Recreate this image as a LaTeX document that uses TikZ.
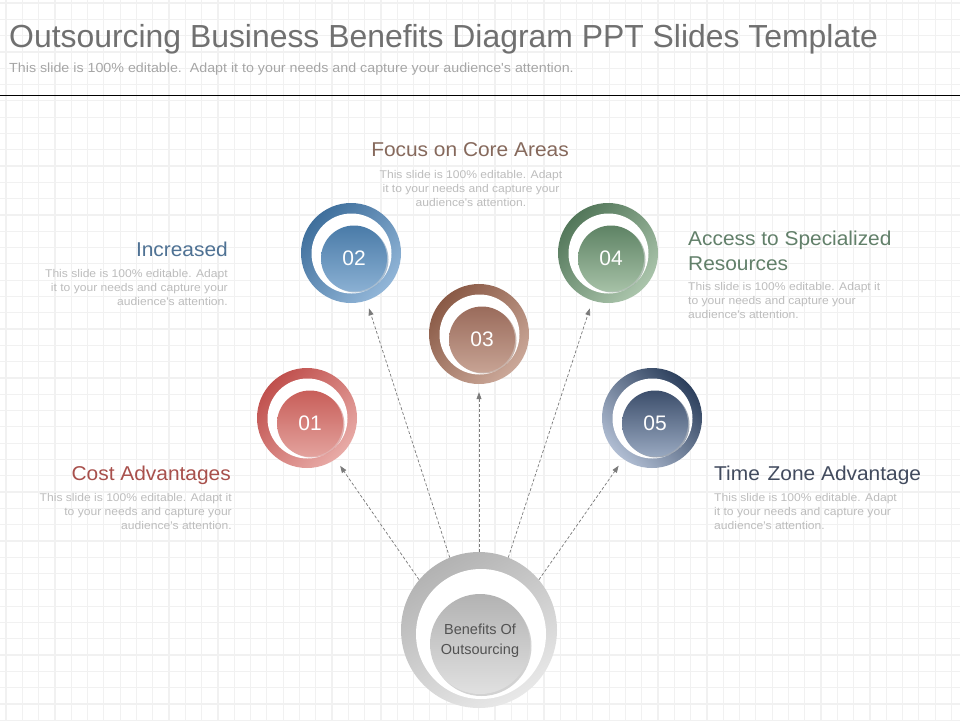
\documentclass[tikz,border=0pt]{standalone}
\usepackage{fontspec}
\setmainfont{Liberation Sans}
\newfontfamily\bodyfont[FakeStretch=1.08]{Liberation Sans}
\newfontfamily\headfont[FakeStretch=1.045]{Liberation Sans}
\usetikzlibrary{calc,arrows.meta}
\definecolor{titlegray}{HTML}{707070}
\definecolor{subgray}{HTML}{A6A6A6}
\definecolor{bodygray}{HTML}{BDBDBD}
\definecolor{gridc}{HTML}{F1F1F1}
\definecolor{arrowc}{HTML}{7A7A7A}
\definecolor{hbrown}{HTML}{86695C}
\definecolor{hblue}{HTML}{4F7294}
\definecolor{hgreen}{HTML}{62806A}
\definecolor{hred}{HTML}{A8504C}
\definecolor{hnavy}{HTML}{424B5E}
\definecolor{rOa}{HTML}{C0504D}\definecolor{rOb}{HTML}{E8ABA7}\definecolor{rIa}{HTML}{C85E59}\definecolor{rIb}{HTML}{E3A29D}
\definecolor{bOa}{HTML}{3F6F9C}\definecolor{bOb}{HTML}{92B6D8}\definecolor{bIa}{HTML}{4A7BA8}\definecolor{bIb}{HTML}{8AB0D3}
\definecolor{wOa}{HTML}{8A5A46}\definecolor{wOb}{HTML}{CBA899}\definecolor{wIa}{HTML}{9A6B5B}\definecolor{wIb}{HTML}{C7A394}
\definecolor{gOa}{HTML}{53775A}\definecolor{gOb}{HTML}{ABC5AC}\definecolor{gIa}{HTML}{5E8364}\definecolor{gIb}{HTML}{A6C1A7}
\definecolor{nOa}{HTML}{2C3F5C}\definecolor{nOb}{HTML}{B0BDD2}\definecolor{nIa}{HTML}{3C4E6B}\definecolor{nIb}{HTML}{98A8C0}
\begin{document}
\begin{tikzpicture}[x=1pt,y=-1pt,
  gridline/.style={draw=gridc,line width=1.2pt},
  arrowline/.style={draw=arrowc,line width=0.7pt,dash pattern=on 3pt off 2pt,
    -{Triangle[length=7pt,width=5pt]},shorten >=8pt},
  ring/.style={circle,inner sep=0pt,minimum size=100pt},
  core/.style={circle,inner sep=0pt,minimum size=66pt,text=white,font=\fontsize{21}{24}\selectfont},
  head/.style={inner sep=0pt,font=\headfont\fontsize{20}{25}\selectfont},
  body/.style={inner sep=0pt,text=bodygray,font=\bodyfont\fontsize{11.2}{14.3}\selectfont},
]
\useasboundingbox (0,0) rectangle (960,720);
\fill[white] (0,0) rectangle (960,720);
% grid
\foreach \i in {0,...,58} {\draw[gridline] ({6+16.3*\i},0) -- ({6+16.3*\i},720);}
\foreach \i in {0,...,44} {\draw[gridline] (0,{3+16.3*\i}) -- (960,{3+16.3*\i});}
% header
\node[anchor=base west,inner sep=0pt,text=titlegray,font=\fontsize{31.9}{36}\selectfont] (title) at (9,47) {Outsourcing Business Benefits Diagram PPT Slides Template};
\node[anchor=base west,inner sep=0pt,text=subgray,font=\bodyfont\fontsize{13.2}{15}\selectfont] (sub) at (9,72) {This slide is 100\% editable.\ \ Adapt it to your needs and capture your audience's attention.};
\draw[black,line width=1pt] (0,95) -- (960,95);

% center circle
\node[circle,inner sep=0pt,minimum size=156pt,top color=black!30,bottom color=black!9,shading angle=30] (c) at (479,630) {};
\fill[white] (481,634) circle[radius=65pt];
\fill[black!35,opacity=0.5] (481.5,646) circle[radius=50pt];
\node[circle,inner sep=0pt,minimum size=100pt,top color=black!30,bottom color=black!12] (cin) at (480,644) {};
\node[inner sep=0pt,text=black!68,align=center,font=\fontsize{14.5}{20}\selectfont] (ctext) at (480,641) {Benefits Of\\Outsourcing};

% small circles
\newcommand{\bubble}[8]{%
  \node[ring,top color=#3,bottom color=#4,shading angle=#5] (#1) at (#2) {};
  \fill[white] ($(#1)+(0.5,0.5)$) circle[radius=40pt];
  \fill[#3,opacity=0.45] ($(#1)+(4.5,6.5)$) circle[radius=33pt];
  \node[core,top color=#6,bottom color=#7] (#1in) at ($(#1)+(3,5.5)$) {#8};
}
\bubble{n1}{307,418}{rOa}{rOb}{45}{rIa}{rIb}{01}
\bubble{n2}{351,253}{bOa}{bOb}{45}{bIa}{bIb}{02}
\bubble{n3}{479,334}{wOa}{wOb}{45}{wIa}{wIb}{03}
\bubble{n4}{608,253}{gOa}{gOb}{45}{gIa}{gIb}{04}
\bubble{n5}{652,418}{nOa}{nOb}{-45}{nIa}{nIb}{05}

% connectors
\draw[arrowline] (c.140) -- (n1);
\draw[arrowline] (c.112) -- (n2);
\draw[arrowline] (c.90) -- (n3);
\draw[arrowline] (c.68) -- (n4);
\draw[arrowline] (c.40) -- (n5);

% texts (base anchor = baseline of last line)
\node[head,anchor=base,text=hbrown] (h3) at (470,156) {Focus on Core Areas};
\node[body,anchor=base,align=center] (b3) at (471,206.6) {This slide is 100\% editable. Adapt\\it to your needs and capture your\\audience's attention.};

\node[head,anchor=base east,text=hblue] (h2) at (228,256) {Increased};
\node[body,anchor=base east,align=right] (b2) at (228,305.6) {This slide is 100\% editable. Adapt\\it to your needs and capture your\\audience's attention.};

\node[head,anchor=base west,text=hgreen,align=left] (h4) at (688,270) {Access to Specialized\\Resources};
\node[body,anchor=base west,align=left] (b4) at (688,318.6) {This slide is 100\% editable. Adapt it\\to your needs and capture your\\audience's attention.};

\node[head,anchor=base east,text=hred] (h1) at (231,480) {Cost Advantages};
\node[body,anchor=base east,align=right] (b1) at (232,529.6) {This slide is 100\% editable. Adapt it\\to your needs and capture your\\audience's attention.};

\node[head,anchor=base west,text=hnavy] (h5) at (714,480) {Time\hspace{2pt} Zone Advantage};
\node[body,anchor=base west,align=left] (b5) at (714,529.6) {This slide is 100\% editable. Adapt\\it to your needs and capture your\\audience's attention.};
\end{tikzpicture}
\end{document}
